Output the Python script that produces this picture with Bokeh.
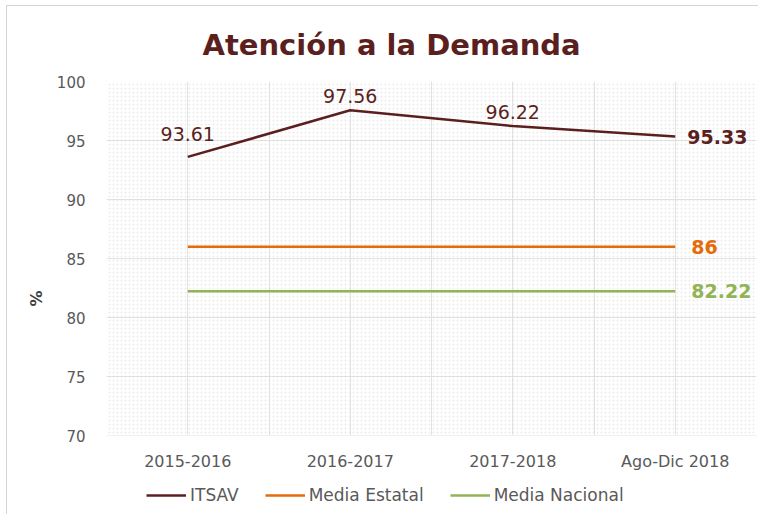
from bokeh.plotting import figure
from bokeh.models import (Range1d, FixedTicker, Legend, LegendItem, BoxAnnotation,
                          ColumnDataSource)
from bokeh.core.properties import value
from bokeh.embed import file_html
from bokeh.resources import INLINE

categories = ["2015-2016", "2016-2017", "2017-2018", "Ago-Dic 2018"]
itsav = [93.61, 97.56, 96.22, 95.33]
media_estatal = [86, 86, 86, 86]
media_nacional = [82.22, 82.22, 82.22, 82.22]
y_ticks = [70, 75, 80, 85, 90, 95, 100]

C_ITSAV = "#5b1f20"
C_EST = "#e46c0a"
C_NAC = "#92b454"

# layout (pixels)
W, H = 752, 509
LEFT, RIGHT, TOP = 99, 3, 75
PLOT_PX = 354          # height of the 70..100 area
EXTRA_PX = H - TOP - PLOT_PX   # area below the plot (axis labels + legend)

y_min, y_max = y_ticks[0], y_ticks[-1]
y_lo = y_min - EXTRA_PX * (y_max - y_min) / PLOT_PX

x = [i + 0.5 for i in range(len(categories))]

p = figure(width=W, height=H, output_backend="svg", toolbar_location=None,
           x_range=Range1d(0, len(categories)), y_range=Range1d(y_lo, y_max),
           min_border_left=LEFT, min_border_right=RIGHT, min_border_top=TOP,
           min_border_bottom=0, title="Atención a la Demanda")
p.outline_line_color = None
p.background_fill_color = "white"
p.border_fill_color = "white"
p.styles = {"margin-left": "6px", "margin-top": "5px",
            "border-top": "1px solid #d4d4d4", "border-left": "1px solid #d4d4d4"}

p.title.align = "left"
p.title.offset = 96
p.title.text_font = "DejaVu Sans"
p.title.text_font_size = "29px"
p.title.text_font_style = "bold"
p.title.text_color = C_ITSAV
p.title.standoff = 39

# white cover for the area below the plot, dotted background of the plot area
p.add_layout(BoxAnnotation(top=y_min, fill_color="white", fill_alpha=1, line_alpha=0,
                           level="underlay"))
p.add_layout(BoxAnnotation(bottom=y_min, fill_alpha=0, line_alpha=0, hatch_pattern="dot",
                           hatch_color="#d0d0d0", hatch_scale=4, hatch_alpha=0.45,
                           level="underlay"))

# axes
p.xaxis.fixed_location = y_min
p.xaxis.ticker = FixedTicker(ticks=x)
p.xaxis.major_label_overrides = {xx: c for xx, c in zip(x, categories)}
p.yaxis.ticker = FixedTicker(ticks=y_ticks)
for ax in (p.xaxis[0], p.yaxis[0]):
    ax.axis_line_color = None
    ax.major_tick_line_color = None
    ax.minor_tick_line_color = None
    ax.major_label_text_font = "DejaVu Sans"
    ax.major_label_text_color = "#595959"
p.xaxis.major_label_text_font_size = "16px"
p.yaxis.major_label_text_font_size = "15px"
p.xaxis.major_label_standoff = 10
p.yaxis.major_label_standoff = 15
p.yaxis.axis_label = "%"
p.yaxis.axis_label_text_font = "DejaVu Sans"
p.yaxis.axis_label_text_font_style = "bold"
p.yaxis.axis_label_text_font_size = "16px"
p.yaxis.axis_label_text_color = "#404040"
p.yaxis.axis_label_standoff = 8

p.xgrid.ticker = FixedTicker(ticks=[i * 0.5 for i in range(2 * len(categories) + 1)])
p.ygrid.ticker = FixedTicker(ticks=y_ticks)
for g in (p.xgrid[0], p.ygrid[0]):
    g.grid_line_color = "#e2e2e2"
    g.grid_line_width = 1

src = ColumnDataSource(dict(x=x, itsav=itsav, est=media_estatal, nac=media_nacional))

r1 = p.line("x", "itsav", source=src, line_color=C_ITSAV, line_width=2.5)
r2 = p.line("x", "est", source=src, line_color=C_EST, line_width=2.5)
r3 = p.line("x", "nac", source=src, line_color=C_NAC, line_width=2.5)

# data labels above first three points (label offsets are styling)
n = len(categories)
label_dy = [-16, -7, -7]
first = ColumnDataSource(dict(x=x[:n - 1], y=itsav[:n - 1],
                              t=[f"{v:.2f}" for v in itsav[:n - 1]], dy=label_dy))
p.text("x", "y", text="t", source=first, text_align="center", text_baseline="bottom",
       y_offset="dy", text_font=value("DejaVu Sans"), text_font_size="19px",
       text_color=C_ITSAV)

# end labels
for vals, col, dx in ((itsav, C_ITSAV, 12), (media_estatal, C_EST, 16),
                      (media_nacional, C_NAC, 16)):
    v = vals[-1]
    s = ColumnDataSource(dict(x=[x[-1]], y=[v], t=[f"{v:.2f}" if v != int(v) else f"{v:g}"]))
    p.text("x", "y", text="t", source=s, text_align="left", text_baseline="middle",
           x_offset=dx, text_font=value("DejaVu Sans"), text_font_size="19px",
           text_font_style="bold", text_color=col)

legend = Legend(items=[LegendItem(label="ITSAV", renderers=[r1]),
                       LegendItem(label="Media Estatal", renderers=[r2]),
                       LegendItem(label="Media Nacional", renderers=[r3])],
                orientation="horizontal", location=(40, 10), border_line_color=None,
                background_fill_alpha=0, label_text_font="DejaVu Sans",
                label_text_font_size="17px", label_text_color="#595959",
                glyph_width=40, spacing=26, padding=0, margin=0, label_standoff=4)
p.add_layout(legend)

open("out.html", "w").write(file_html(p, INLINE))
